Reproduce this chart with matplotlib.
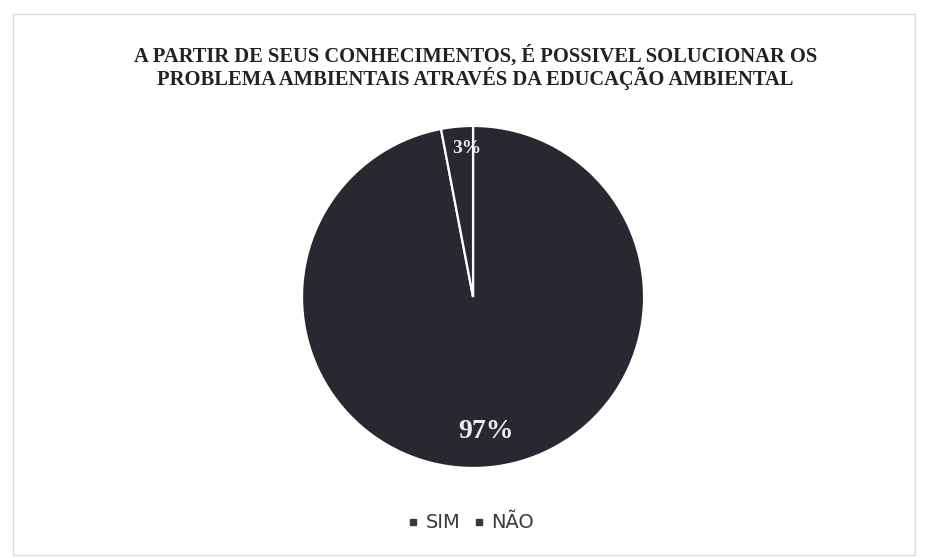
import numpy as np
import matplotlib
matplotlib.use("Agg")
import matplotlib.pyplot as plt
from matplotlib.patches import Rectangle
from matplotlib.lines import Line2D

# === Dados do gráfico ===
titulo = ("A PARTIR DE SEUS CONHECIMENTOS, É POSSIVEL SOLUCIONAR OS\n"
          "PROBLEMA AMBIENTAIS ATRAVÉS DA EDUCAÇÃO AMBIENTAL")
categorias = ["SIM", "NÃO"]
valores = [97, 3]
cores = ["#2a2731", "#2a2731"]

# === Figura ===
fig = plt.figure(figsize=(9.27, 5.58), dpi=100)
fig.patch.set_facecolor("white")

# moldura clara do gráfico
fig.patches.append(Rectangle((0.014, 0.006), 0.973, 0.969, transform=fig.transFigure,
                             fill=False, edgecolor="#dcdcdc", linewidth=1.0))

ax = fig.add_axes([0.3258, 0.1613, 0.369, 0.613])
wedges, texts, pcts = ax.pie(valores, colors=cores, startangle=90, counterclock=False,
                             autopct="%1.0f%%", pctdistance=0.79,
                             wedgeprops=dict(edgecolor="white", linewidth=1.6),
                             textprops=dict(family=["Liberation Serif", "DejaVu Serif"],
                                            color="#ececec", fontweight="bold"))
ax.set_aspect("equal")
ax.set_xlim(-1, 1)
ax.set_ylim(-1, 1)

pcts[0].set_fontsize(20)
pcts[1].set_fontsize(14)
# rótulo da fatia pequena mais perto da borda
w = wedges[1]
ang = np.deg2rad((w.theta1 + w.theta2) / 2 - 3)
pcts[1].set_position((0.87 * np.cos(ang), 0.87 * np.sin(ang)))

fig.text(0.513, 0.879, titulo, ha="center", va="center", fontsize=14.8,
         fontweight="bold", family=["Liberation Serif", "DejaVu Serif"],
         color="#222222", linespacing=1.0)

# legenda com quadradinhos pequenos
marcadores = [Line2D([], [], marker="s", linestyle="none", markersize=5,
                     color="#3a3a3a") for _ in categorias]
leg = fig.legend(marcadores, categorias, loc="center", bbox_to_anchor=(0.508, 0.063),
                 ncol=2, frameon=False, handlelength=0.5, handletextpad=0.4,
                 columnspacing=0.7,
                 prop=dict(family=["Liberation Sans Narrow", "DejaVu Sans"], size=14))
for t in leg.get_texts():
    t.set_color("#3a3a3a")

fig.savefig("out.png", dpi=100)
